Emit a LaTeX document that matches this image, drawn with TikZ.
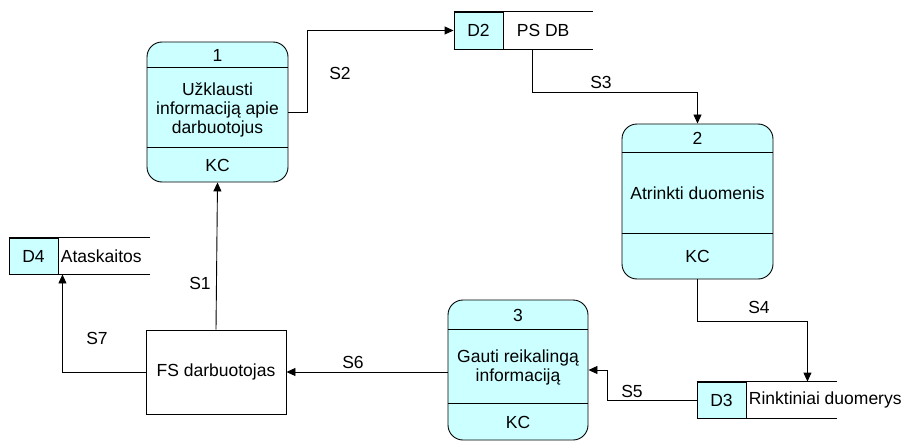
\documentclass[tikz,border=0pt]{standalone}
\usepackage{fontspec}
\setmainfont{Liberation Sans}
\usetikzlibrary{arrows.meta,calc}
\definecolor{proccyan}{HTML}{CCFFFF}
\tikzset{
  proc/.style={draw, fill=proccyan, rounded corners=15pt, minimum width=141pt, inner sep=0pt},
  storeid/.style={draw, fill=proccyan, minimum width=49pt, minimum height=37pt, inner sep=0pt},
  storetxt/.style={anchor=west, inner sep=2pt},
  flow/.style={-{Triangle[length=9pt,width=8pt]}},
  lbl/.style={inner sep=1pt}
}
\begin{document}
\begin{tikzpicture}[x=1pt, y=-1pt, font=\fontsize{17.5}{19}\selectfont, line width=0.9pt]
    \useasboundingbox (0,0) rectangle (907,441);
    % processes
    \node[proc, minimum height=140pt] (p1) at (217.5,112) {};
    \draw ($(p1.north west)+(0,26)$) -- ($(p1.north east)+(0,26)$);
    \draw[line width=1.8pt] ($(p1.north west)+(0,106)$) -- ($(p1.north east)+(0,106)$);
    \node (p1num) at (217.5,55) {1};
    \node[align=center] (p1txt) at (217.5,110) {Užklausti\\informaciją apie\\darbuotojus};
    \node (p1who) at (217.5,165) {KC};

    \node[proc, minimum width=151pt, minimum height=155pt] (p2) at (697.5,201.5) {};
    \draw ($(p2.north west)+(0,29)$) -- ($(p2.north east)+(0,29)$);
    \draw ($(p2.north west)+(0,110)$) -- ($(p2.north east)+(0,110)$);
    \node (p2num) at (697.5,138.5) {2};
    \node (p2txt) at (697.5,193.5) {Atrinkti duomenis};
    \node (p2who) at (697.5,256.5) {KC};

    \node[proc, minimum width=140pt, minimum height=140pt] (p3) at (518,370) {};
    \draw ($(p3.north west)+(0,30)$) -- ($(p3.north east)+(0,30)$);
    \draw ($(p3.north west)+(0,104)$) -- ($(p3.north east)+(0,104)$);
    \node (p3num) at (518,315) {3};
    \node[align=center] (p3txt) at (518,367) {Gauti reikalingą\\informaciją};
    \node (p3who) at (518,422) {KC};

    % external entity
    \node[draw, minimum width=140pt, minimum height=84pt] (fs) at (216,372) {FS darbuotojas};

    % data stores
    \node[storeid] (d2id) at (478.5,30.5) {D2};
    \node[storetxt, inner xsep=13pt] (d2) at (d2id.east) {PS DB};
    \draw[line width=1.8pt] (d2id.north west) -- ++(139,0);
    \draw (d2id.south west) -- ++(139,0);

    \node[storeid, minimum height=36pt] (d3id) at (721.5,400) {D3};
    \node[storetxt] (d3) at (d3id.east) {Rinktiniai duomerys};
    \draw (d3id.north west) -- ++(140,0);
    \draw[line width=1.3pt] (d3id.south west) -- ++(140,0);

    \node[storeid, minimum height=36pt] (d4id) at (33.5,256) {D4};
    \node[storetxt] (d4) at (d4id.east) {Ataskaitos};
    \draw (d4id.north west) -- ++(141,0);
    \draw[line width=1.3pt] (d4id.south west) -- ++(141,0);

    % flows
    \draw[flow] (p1.east) -- ++(19,0) |- (d2id.west);
    \draw[flow] ($(d2id.south east)+(29,0)$) -- ++(0,43) -| (p2.north);
    \draw[flow] (p2.south) -- ++(0,42) -| ($(d3id.north east)+(61,0)$);
    \draw[flow] (d3id.west) -- ++(-89,0) |- (p3.east);
    \draw[flow] (p3.west |- fs.east) -- (fs.east);
    \draw[flow] (fs.north) -- (p1.south);
    \draw[flow] (fs.west) -| ($(d4id.south east)+(4,0)$);

    % flow labels
    \node[lbl] (s1) at (200,283) {S1};
    \node[lbl] (s2) at (340,73) {S2};
    \node[lbl] (s3) at (601,82) {S3};
    \node[lbl] (s4) at (759,307) {S4};
    \node[lbl] (s5) at (632,391) {S5};
    \node[lbl] (s6) at (353,362) {S6};
    \node[lbl] (s7) at (97,338) {S7};
\end{tikzpicture}
\end{document}
